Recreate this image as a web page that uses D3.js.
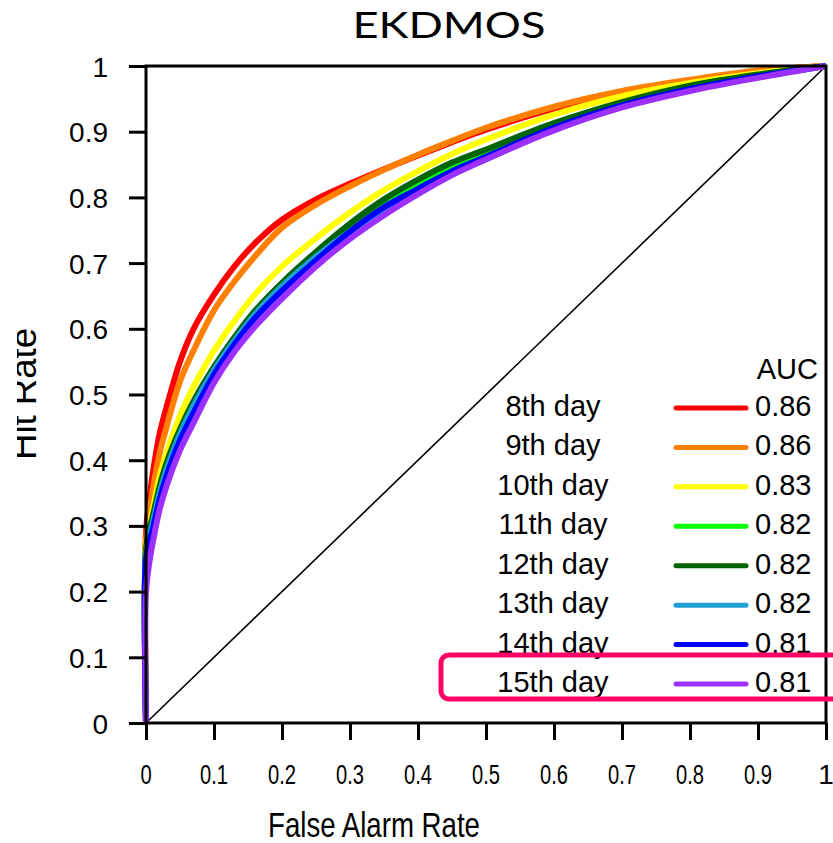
<!DOCTYPE html>
<html>
<head>
<meta charset="utf-8">
<script src="https://cdn.jsdelivr.net/npm/d3@7"></script>
<style>
  html, body { margin: 0; padding: 0; background: #fff; }
  svg { display: block; }
</style>
</head>
<body>
<svg id="chart" width="833" height="843"></svg>
<script>
// ---- data ----
const far   = [0, 0, 0.005, 0.01, 0.02, 0.03, 0.05, 0.07, 0.1, 0.13, 0.16, 0.2, 0.25, 0.3, 0.35, 0.4, 0.45, 0.5, 0.6, 0.7, 0.8, 0.9, 1];
const hit8  = [0, 0.29, 0.34, 0.38, 0.44, 0.48, 0.55, 0.60, 0.652, 0.695, 0.73, 0.766, 0.797, 0.821, 0.843, 0.864, 0.884, 0.903, 0.935, 0.959, 0.977, 0.992, 1];
const hit9  = [0, 0.28, 0.32, 0.355, 0.41, 0.45, 0.52, 0.567, 0.628, 0.672, 0.71, 0.754, 0.789, 0.817, 0.842, 0.865, 0.886, 0.906, 0.938, 0.962, 0.979, 0.993, 1];
const hit10 = [0, 0.27, 0.30, 0.325, 0.375, 0.41, 0.468, 0.512, 0.567, 0.612, 0.652, 0.695, 0.738, 0.777, 0.811, 0.84, 0.866, 0.888, 0.926, 0.954, 0.974, 0.989, 1];
const hit11 = [0, 0.26, 0.29, 0.31, 0.355, 0.39, 0.442, 0.485, 0.537, 0.582, 0.622, 0.666, 0.713, 0.756, 0.792, 0.822, 0.848, 0.869, 0.91, 0.943, 0.968, 0.986, 1];
const hit12 = [0, 0.265, 0.295, 0.315, 0.36, 0.395, 0.447, 0.49, 0.542, 0.587, 0.627, 0.67, 0.717, 0.76, 0.797, 0.827, 0.853, 0.873, 0.913, 0.945, 0.97, 0.987, 1];
const hit13 = [0, 0.255, 0.285, 0.305, 0.35, 0.385, 0.44, 0.483, 0.537, 0.582, 0.622, 0.665, 0.71, 0.748, 0.78, 0.808, 0.835, 0.858, 0.903, 0.938, 0.963, 0.983, 1];
const hit14 = [0, 0.25, 0.275, 0.295, 0.34, 0.375, 0.43, 0.472, 0.53, 0.576, 0.616, 0.658, 0.704, 0.748, 0.785, 0.813, 0.84, 0.862, 0.906, 0.94, 0.965, 0.984, 1];
const hit15 = [0, 0.20, 0.245, 0.275, 0.325, 0.36, 0.415, 0.457, 0.518, 0.565, 0.603, 0.646, 0.695, 0.737, 0.773, 0.805, 0.834, 0.858, 0.902, 0.937, 0.962, 0.982, 1];
const days = ["8th day", "9th day", "10th day", "11th day", "12th day", "13th day", "14th day", "15th day"];
const auc = ["0.86", "0.86", "0.83", "0.82", "0.82", "0.82", "0.81", "0.81"];
const colors = ["#ff0000", "#ff8000", "#ffff00", "#00ff00", "#006400", "#1ea0d2", "#0000ff", "#9b30ff"];
const xTicks = [0, 0.1, 0.2, 0.3, 0.4, 0.5, 0.6, 0.7, 0.8, 0.9, 1];
const yTicks = [0, 0.1, 0.2, 0.3, 0.4, 0.5, 0.6, 0.7, 0.8, 0.9, 1];
const title = "EKDMOS";
const xLabel = "False Alarm Rate";
const yLabel = "Hit Rate";

const series = [hit8, hit9, hit10, hit11, hit12, hit13, hit14, hit15];

// ---- layout ----
const svg = d3.select("#chart");
const L = 146, R = 826, T = 66, B = 723;
const x = d3.scaleLinear().domain([0, 1]).range([L, R]);
const y = d3.scaleLinear().domain([0, 1]).range([B, T]);
const font = "'Liberation Sans', Arial, Helvetica, sans-serif";
const fmt = d => String(+(+d).toFixed(1));

// title
svg.append("text")
  .attr("x", 449).attr("y", 38)
  .attr("text-anchor", "middle")
  .attr("font-family", "Lato, 'Open Sans', sans-serif")
  .attr("font-size", 37)
  .attr("textLength", 193).attr("lengthAdjust", "spacingAndGlyphs")
  .attr("fill", "#000")
  .text(title);

// diagonal reference
svg.append("line")
  .attr("x1", x(0)).attr("y1", y(0)).attr("x2", x(1)).attr("y2", y(1))
  .attr("stroke", "#000").attr("stroke-width", 1.6);

// curves
const line = d3.line()
  .x((d, i) => x(far[i]))
  .y(d => y(d))
  .curve(d3.curveCatmullRom.alpha(0.5));

svg.append("g").selectAll("path")
  .data(series)
  .join("path")
  .attr("d", d => line(d))
  .attr("fill", "none")
  .attr("stroke", (d, i) => colors[i])
  .attr("stroke-width", 6)
  .attr("stroke-linejoin", "round");

// frame
svg.append("rect")
  .attr("x", L).attr("y", T).attr("width", R - L).attr("height", B - T)
  .attr("fill", "none").attr("stroke", "#000").attr("stroke-width", 3);

// y axis
const yAxis = d3.axisLeft(y).tickValues(yTicks).tickSize(17).tickSizeOuter(0).tickPadding(21)
  .tickFormat(fmt);
const gy = svg.append("g").attr("transform", `translate(${L},0)`).call(yAxis);
gy.select(".domain").remove();
gy.selectAll(".tick line").attr("stroke", "#000").attr("stroke-width", 3);
gy.selectAll(".tick text")
  .attr("font-family", font).attr("font-size", 28).attr("fill", "#000")
  .attr("dy", "0.36em");

// x axis ticks
const xAxis = d3.axisBottom(x).tickValues(xTicks).tickSize(17).tickSizeOuter(0).tickFormat(fmt);
const gx = svg.append("g").attr("transform", `translate(0,${B})`).call(xAxis);
gx.select(".domain").remove();
gx.selectAll(".tick line").attr("stroke", "#000").attr("stroke-width", 3);
gx.selectAll(".tick text").remove();

// x tick labels (narrow)
svg.append("g").selectAll("text")
  .data(xTicks)
  .join("text")
  .attr("x", d => x(d)).attr("y", 784)
  .attr("text-anchor", "middle")
  .attr("font-family", font).attr("font-size", 28).attr("fill", "#000")
  .text(d => fmt(d))
  .each(function (d) {
    if (d < 1) {
      const w = this.getComputedTextLength();
      d3.select(this).attr("textLength", w * 0.72).attr("lengthAdjust", "spacingAndGlyphs");
    }
  });

// axis titles
svg.append("text")
  .attr("x", 374).attr("y", 837)
  .attr("text-anchor", "middle")
  .attr("font-family", font).attr("font-size", 35)
  .attr("textLength", 212).attr("lengthAdjust", "spacingAndGlyphs")
  .attr("fill", "#000")
  .text(xLabel);

svg.append("clipPath").attr("id", "yclip")
  .append("rect").attr("x", 17).attr("y", 0).attr("width", 60).attr("height", 843);
svg.append("g").attr("clip-path", "url(#yclip)")
  .append("text")
  .attr("transform", "translate(36,394) rotate(-90)")
  .attr("text-anchor", "middle")
  .attr("font-family", font).attr("font-size", 36)
  .attr("textLength", 132).attr("lengthAdjust", "spacingAndGlyphs")
  .attr("fill", "#000")
  .text(yLabel);

// legend
const legendY = d3.scaleLinear().domain([0, days.length - 1]).range([408, 684]);
svg.append("text")
  .attr("x", 818).attr("y", 379)
  .attr("text-anchor", "end")
  .attr("font-family", font).attr("font-size", 29).attr("fill", "#000")
  .text("AUC");

const lg = svg.append("g").selectAll("g")
  .data(days)
  .join("g")
  .attr("transform", (d, i) => `translate(0,${legendY(i)})`);
lg.append("text")
  .attr("x", 553).attr("y", 8)
  .attr("text-anchor", "middle")
  .attr("font-family", font).attr("font-size", 29).attr("fill", "#000")
  .text(d => d);
lg.append("line")
  .attr("x1", 676).attr("x2", 746).attr("y1", 0).attr("y2", 0)
  .attr("stroke", (d, i) => colors[i]).attr("stroke-width", 5).attr("stroke-linecap", "round");
lg.append("text")
  .attr("x", 755).attr("y", 8)
  .attr("font-family", font).attr("font-size", 29).attr("fill", "#000")
  .text((d, i) => auc[i]);

// highlight box
svg.append("rect")
  .attr("x", 441).attr("y", 655).attr("width", 420).attr("height", 44)
  .attr("rx", 8).attr("ry", 8)
  .attr("fill", "none").attr("stroke", "#ff0066").attr("stroke-width", 5);
</script>
</body>
</html>
